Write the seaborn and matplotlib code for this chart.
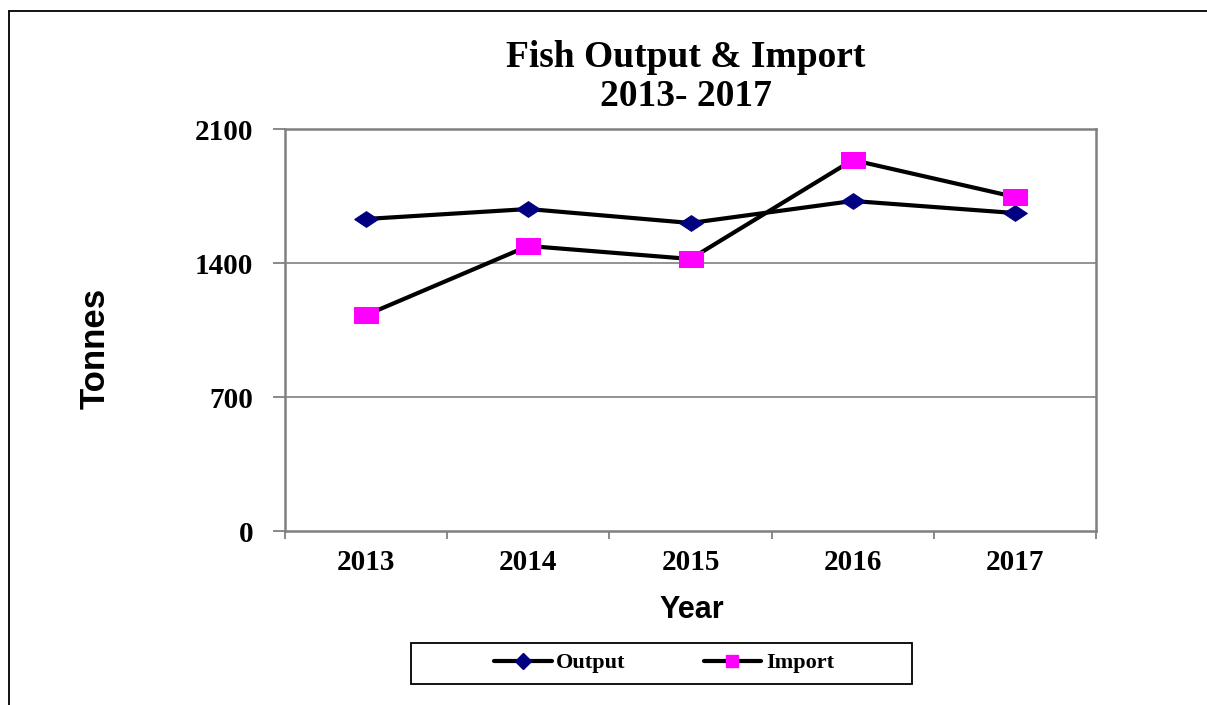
import numpy as np
import pandas as pd
import matplotlib
matplotlib.use("Agg")
import matplotlib.pyplot as plt
from matplotlib.lines import Line2D
from matplotlib.patches import Rectangle
import seaborn as sns

# ── Data ─────────────────────────────────────────────────────────────────────
years = [2013, 2014, 2015, 2016, 2017]
output_t = [1630, 1682, 1609, 1724, 1661]
import_t = [1128, 1489, 1421, 1938, 1745]
y_ticks = [0, 700, 1400, 2100]

df = pd.DataFrame({"Year": years, "Output": output_t, "Import": import_t})

sns.set_theme(style="white")
plt.rcParams["font.family"] = ["Liberation Serif", "DejaVu Serif"]
plt.rcParams["text.color"] = "black"
plt.rcParams["xtick.color"] = "black"
plt.rcParams["ytick.color"] = "black"

SERIF = ["Liberation Serif", "DejaVu Serif"]
GRID = "#808080"

# stretched markers (the source image is wider than tall)
diamond = [(-1.5, 0), (0, 1), (1.5, 0), (0, -1), (-1.5, 0)]
rect = [(-1.4, -1), (1.4, -1), (1.4, 1), (-1.4, 1), (-1.4, -1)]

fig = plt.figure(figsize=(12.07, 7.05), dpi=100)
ax = fig.add_axes([285 / 1207, 1 - 531 / 705, 811 / 1207, 402 / 705])

sns.lineplot(data=df, x="Year", y="Output", ax=ax, color="black", lw=3,
             marker=diamond, markersize=17, markerfacecolor="#000080",
             markeredgecolor="#000080", label="Output", legend=False)
sns.lineplot(data=df, x="Year", y="Import", ax=ax, color="black", lw=3,
             marker=rect, markersize=17, markerfacecolor="#FF00FF",
             markeredgecolor="#FF00FF", label="Import", legend=False)

ax.set_xlim(years[0] - 0.5, years[-1] + 0.5)
ax.set_ylim(y_ticks[0], y_ticks[-1])
ax.set_yticks(y_ticks)
ax.set_yticklabels([str(v) for v in y_ticks], fontsize=21, fontweight="bold",
                   family=SERIF)
ax.set_xticks(years)
ax.set_xticklabels([str(y) for y in years], fontsize=21, fontweight="bold",
                   family=SERIF)
ax.set_xticks([y - 0.5 for y in years] + [years[-1] + 0.5], minor=True)
ax.tick_params(axis="x", which="major", length=0, pad=13)
ax.tick_params(axis="x", which="minor", length=6, width=1.3, color=GRID,
               direction="out", bottom=True)
ax.tick_params(axis="y", length=9, width=1.3, color=GRID, direction="out",
               pad=14, left=True)
ax.set_xlabel("")
ax.set_ylabel("")
for y in y_ticks[1:-1]:
    ax.axhline(y, color=GRID, lw=1.2, zorder=0)
for s in ax.spines.values():
    s.set_color(GRID)
    s.set_linewidth(1.8)
    s.set_visible(True)

# ── Titles / labels ──────────────────────────────────────────────────────────
fig.text(686 / 1207, 1 - 77 / 705, "Fish Output & Import\n2013- 2017",
         ha="center", va="center", fontsize=27, fontweight="bold",
         family=SERIF, linespacing=1.17)
fig.text(95 / 1207, 1 - 348 / 705, "Tonnes", rotation=90, ha="center",
         va="center", fontsize=25, fontweight="bold",
         family=["Liberation Sans Narrow", "Liberation Sans", "DejaVu Sans"])
fig.text(692 / 1207, 1 - 610 / 705, "Year", ha="center", va="center",
         fontsize=22, fontweight="bold", family=["Liberation Sans", "DejaVu Sans"])

# ── Legend ───────────────────────────────────────────────────────────────────
handles = [
    Line2D([], [], color="black", lw=3, marker="D", markersize=8,
           markerfacecolor="#000080", markeredgecolor="#000080"),
    Line2D([], [], color="black", lw=3, marker="s", markersize=9,
           markerfacecolor="#FF00FF", markeredgecolor="#FF00FF"),
]
fig.legend(handles, ["Output", "Import"], loc="center",
           bbox_to_anchor=(664 / 1207, 1 - 663 / 705), ncol=2, frameon=False,
           prop={"family": SERIF, "weight": "bold", "size": 16},
           handlelength=2.6, handletextpad=0.2, columnspacing=3.5)
fig.patches.append(Rectangle((411 / 1207, 1 - 684 / 705), 501 / 1207, 41 / 705,
                             transform=fig.transFigure, fill=False,
                             edgecolor="black", lw=1.3))

# outer frame (only left and top edges visible in the source)
fig.add_artist(Line2D([9 / 1207, 9 / 1207], [0, 1 - 11 / 705],
                      transform=fig.transFigure, color="black", lw=1.3))
fig.add_artist(Line2D([9 / 1207, 1], [1 - 11 / 705, 1 - 11 / 705],
                      transform=fig.transFigure, color="black", lw=1.3))

fig.savefig("out.png", dpi=100)
